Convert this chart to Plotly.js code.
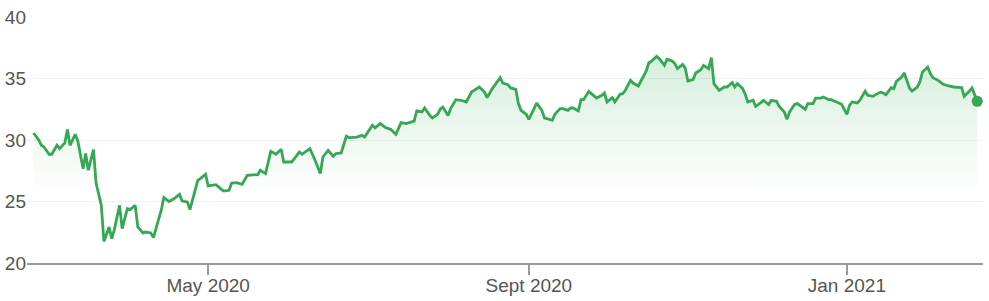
<!DOCTYPE html>
<html>
<head>
<meta charset="utf-8">
<script src="https://cdn.plot.ly/plotly-3.0.1.min.js"></script>
<style>
  html, body { margin: 0; padding: 0; background: #ffffff; }
  #chart { width: 989px; height: 301px; }
</style>
</head>
<body>
<div id="chart"></div>
<script>
const dates = [
  '2020-02-24','2020-02-26','2020-02-27','2020-02-28',
  '2020-03-01','2020-03-02','2020-03-04','2020-03-05','2020-03-07','2020-03-08','2020-03-09','2020-03-11','2020-03-12','2020-03-14','2020-03-15','2020-03-16','2020-03-18','2020-03-19','2020-03-21','2020-03-22','2020-03-24','2020-03-25','2020-03-26','2020-03-28','2020-03-29','2020-03-31',
  '2020-04-01','2020-04-03','2020-04-04','2020-04-06','2020-04-07','2020-04-09','2020-04-10','2020-04-11','2020-04-13','2020-04-14','2020-04-16','2020-04-18','2020-04-20','2020-04-21','2020-04-23','2020-04-24','2020-04-26','2020-04-27','2020-04-28','2020-04-30',
  '2020-05-01','2020-05-04','2020-05-06','2020-05-07','2020-05-09','2020-05-10','2020-05-12','2020-05-14','2020-05-16','2020-05-18','2020-05-20','2020-05-21','2020-05-23','2020-05-25','2020-05-27','2020-05-29','2020-05-30',
  '2020-06-02','2020-06-05','2020-06-06','2020-06-09','2020-06-11','2020-06-13','2020-06-14','2020-06-16','2020-06-18','2020-06-19','2020-06-21','2020-06-23','2020-06-24','2020-06-27','2020-06-29','2020-06-30',
  '2020-07-03','2020-07-04','2020-07-06','2020-07-08','2020-07-10','2020-07-12','2020-07-14','2020-07-16','2020-07-19','2020-07-20','2020-07-22','2020-07-23','2020-07-25','2020-07-26','2020-07-28','2020-07-29','2020-07-30',
  '2020-08-01','2020-08-02','2020-08-04','2020-08-06','2020-08-08','2020-08-10','2020-08-11','2020-08-13','2020-08-15','2020-08-16','2020-08-18','2020-08-19','2020-08-21','2020-08-22','2020-08-24','2020-08-25','2020-08-27','2020-08-28','2020-08-29','2020-08-31',
  '2020-09-01','2020-09-03','2020-09-04','2020-09-06','2020-09-07','2020-09-08','2020-09-10','2020-09-11','2020-09-13','2020-09-14','2020-09-16','2020-09-17','2020-09-18','2020-09-20','2020-09-21','2020-09-22','2020-09-24','2020-09-25','2020-09-27','2020-09-29','2020-09-30',
  '2020-10-01','2020-10-03','2020-10-04','2020-10-06','2020-10-07','2020-10-08','2020-10-10','2020-10-11','2020-10-13','2020-10-14','2020-10-16','2020-10-17','2020-10-18','2020-10-20','2020-10-21','2020-10-23','2020-10-24','2020-10-26','2020-10-27','2020-10-28','2020-10-30','2020-10-31',
  '2020-11-01','2020-11-03','2020-11-04','2020-11-06','2020-11-07','2020-11-09','2020-11-10','2020-11-11','2020-11-13','2020-11-15','2020-11-16','2020-11-18','2020-11-19','2020-11-20','2020-11-22','2020-11-23','2020-11-24','2020-11-26','2020-11-27','2020-11-29','2020-11-30',
  '2020-12-02','2020-12-03','2020-12-05','2020-12-06','2020-12-08','2020-12-09','2020-12-10','2020-12-12','2020-12-13','2020-12-15','2020-12-16','2020-12-17','2020-12-19','2020-12-20','2020-12-22','2020-12-23','2020-12-25','2020-12-26','2020-12-28','2020-12-30',
  '2021-01-01','2021-01-02','2021-01-03','2021-01-05','2021-01-06','2021-01-08','2021-01-09','2021-01-11','2021-01-12','2021-01-14','2021-01-16','2021-01-18','2021-01-19','2021-01-20','2021-01-22','2021-01-23','2021-01-25','2021-01-26','2021-01-28','2021-01-29','2021-01-30',
  '2021-02-01','2021-02-02','2021-02-03','2021-02-05','2021-02-07','2021-02-09','2021-02-11','2021-02-14','2021-02-15','2021-02-17','2021-02-18','2021-02-20'
];

const prices = [
  30.57, 30.0, 29.57, 29.43,
  28.84, 28.84, 29.57, 29.3, 29.76, 30.85, 29.57, 30.46, 29.92, 27.67, 28.9, 27.54, 29.22, 26.5, 24.69, 21.75, 22.93, 21.98, 22.72, 24.69, 22.8, 24.42,
  24.34, 24.69, 22.93, 22.44, 22.52, 22.44, 22.06, 22.8, 24.29, 25.32, 25.0, 25.24, 25.59, 25.04, 24.96, 24.34, 26.05, 26.72, 26.86, 27.21,
  26.26, 26.37, 25.99, 25.85, 25.91, 26.5, 26.54, 26.4, 27.13, 27.13, 27.19, 27.54, 27.27, 29.08, 28.84, 29.24, 28.21,
  28.21, 29.02, 28.84, 29.3, 28.35, 27.27, 28.62, 29.16, 28.67, 28.89, 28.94, 30.3, 30.2, 30.24, 30.38, 30.24,
  31.2, 30.98, 31.33, 31.01, 30.87, 30.46, 31.41, 31.33, 31.54, 32.36, 32.28, 32.6, 32.0, 31.79, 32.09, 32.5, 32.68,
  32.0, 32.55, 33.28, 33.23, 33.09, 33.9, 34.04, 34.31, 33.9, 33.45, 34.18, 34.45, 35.07, 34.63, 34.5, 34.23, 34.12, 32.96, 32.41, 32.09,
  31.68, 32.55, 33.01, 32.41, 31.79, 31.74, 31.6, 32.09, 32.55, 32.55, 32.41, 32.6, 32.6, 32.36, 33.28, 33.28, 33.96, 33.77, 33.41, 33.63, 33.82,
  33.09, 33.45, 33.09, 33.72, 33.77, 34.04, 34.85, 34.63, 34.39, 34.8, 35.59, 36.26, 36.4, 36.8, 36.62, 36.07, 36.56, 36.42, 36.21, 35.8, 36.13, 35.85,
  34.8, 34.91, 35.45, 35.72, 36.07, 35.8, 36.7, 34.58, 34.04, 34.31, 34.31, 34.67, 34.31, 34.58, 34.18, 33.72, 33.09, 33.23, 32.74, 33.04, 33.23,
  32.88, 33.23, 33.15, 32.74, 32.28, 31.68, 32.28, 32.9, 32.96, 32.68, 32.5, 32.96, 32.96, 33.41, 33.41, 33.5, 33.28, 33.28, 33.09, 32.9,
  32.09, 32.82, 33.09, 33.01, 33.23, 33.96, 33.63, 33.55, 33.69, 33.9, 33.69, 34.26, 34.18, 34.77, 35.12, 35.45, 34.23, 33.98, 34.31, 34.72, 35.53,
  35.93, 35.4, 35.07, 34.85, 34.53, 34.39, 34.31, 34.26, 33.55, 33.98, 34.23, 33.15
];

const yTicks = [20, 25, 30, 35, 40];
const xTickVals = ['2020-05-01', '2020-09-01', '2021-01-01'];
const xTickText = ['May 2020', 'Sept 2020', 'Jan 2021'];

const fillFloor = 25.6;
const green = 'rgb(52,168,83)';

const baseline = {
  x: dates,
  y: dates.map(() => fillFloor),
  type: 'scatter',
  mode: 'lines',
  line: { width: 0, color: 'rgba(0,0,0,0)' },
  hoverinfo: 'skip',
  showlegend: false
};

const priceLine = {
  x: dates,
  y: prices,
  type: 'scatter',
  mode: 'lines',
  line: { color: green, width: 2.8 },
  fill: 'tonexty',
  fillgradient: {
    type: 'vertical',
    start: fillFloor,
    stop: 36.8,
    colorscale: [[0, 'rgba(52,168,83,0.0)'], [1, 'rgba(52,168,83,0.2)']]
  },
  showlegend: false
};

const lastPoint = {
  x: [dates[dates.length - 1]],
  y: [prices[prices.length - 1]],
  type: 'scatter',
  mode: 'markers',
  marker: { color: green, size: 11 },
  showlegend: false
};

const layout = {
  width: 989,
  height: 301,
  margin: { l: 27, r: 6, t: 17, b: 38 },
  paper_bgcolor: '#ffffff',
  plot_bgcolor: '#ffffff',
  font: { family: 'Liberation Sans, Arial, sans-serif', size: 19, color: '#555555' },
  xaxis: {
    type: 'date',
    range: ['2020-02-21 12:00', '2021-02-22 05:00'],
    tickvals: xTickVals,
    ticktext: xTickText,
    ticks: 'outside',
    ticklen: 10,
    tickwidth: 1.5,
    tickcolor: '#9a9a9a',
    showgrid: false,
    zeroline: false,
    showline: true,
    linecolor: '#9a9a9a',
    linewidth: 2,
    ticklabelstandoff: -6,
    tickfont: { size: 19, color: '#555555' }
  },
  yaxis: {
    range: [20, 40],
    tickvals: yTicks,
    ticks: '',
    showgrid: true,
    gridcolor: '#f0f0f0',
    gridwidth: 1,
    zeroline: false,
    showline: false,
    ticklabelstandoff: 0,
    tickfont: { size: 19, color: '#555555' }
  },
  hovermode: false
};

Plotly.newPlot('chart', [baseline, priceLine, lastPoint], layout, { displayModeBar: false, staticPlot: true });
</script>
</body>
</html>
